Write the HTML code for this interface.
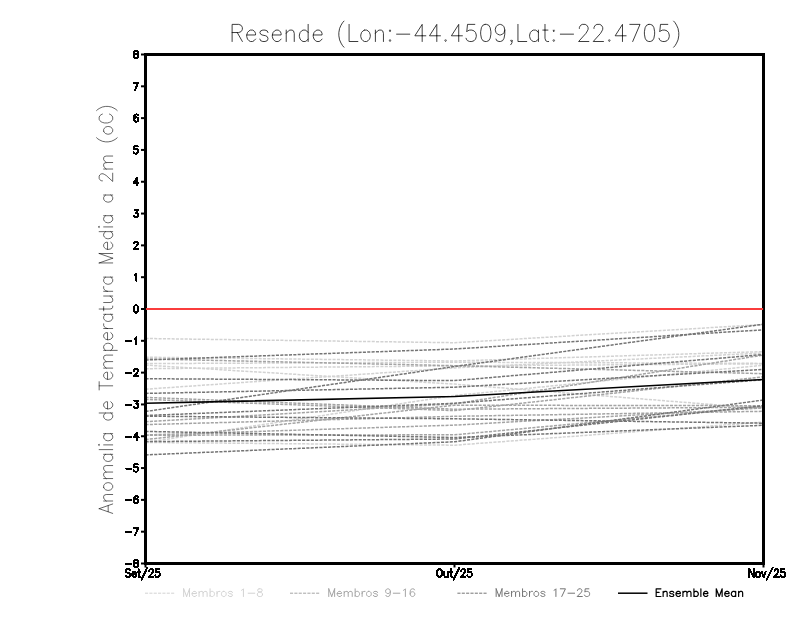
<!DOCTYPE html>
<html><head><meta charset="utf-8"><title>Resende</title>
<style>html,body{margin:0;padding:0;background:#fff;font-family:"Liberation Sans",sans-serif;}svg{display:block}</style></head>
<body>
<svg width="800" height="618" viewBox="0 0 800 618">
<rect width="800" height="618" fill="#fff"/>
<polyline points="145.5,338.5 454.5,342.7 763.5,324.5" fill="none" stroke="#d2d2d2" stroke-width="1.50" stroke-dasharray="3.1 1.25"/>
<polyline points="145.5,357.2 454.5,361.0 763.5,351.6" fill="none" stroke="#d2d2d2" stroke-width="1.50" stroke-dasharray="3.1 1.25"/>
<polyline points="145.5,363.6 454.5,362.2 763.5,363.4" fill="none" stroke="#d2d2d2" stroke-width="1.50" stroke-dasharray="3.1 1.25"/>
<polyline points="145.5,368.7 454.5,365.9 763.5,363.8" fill="none" stroke="#d2d2d2" stroke-width="1.50" stroke-dasharray="3.1 1.25"/>
<polyline points="145.5,365.1 454.5,384.1 763.5,408.6" fill="none" stroke="#d2d2d2" stroke-width="1.50" stroke-dasharray="3.1 1.25"/>
<polyline points="145.5,389.2 454.5,367.9 763.5,353.0" fill="none" stroke="#d2d2d2" stroke-width="1.50" stroke-dasharray="3.1 1.25"/>
<polyline points="145.5,442.4 454.5,445.2 763.5,422.1" fill="none" stroke="#d2d2d2" stroke-width="1.50" stroke-dasharray="3.1 1.25"/>
<polyline points="145.5,442.4 454.5,395.5 763.5,365.2" fill="none" stroke="#d2d2d2" stroke-width="1.50" stroke-dasharray="3.1 1.25"/>
<polyline points="145.5,397.4 454.5,409.2 763.5,407.3" fill="none" stroke="#a4a4a4" stroke-width="1.50" stroke-dasharray="3.1 1.25"/>
<polyline points="145.5,399.4 454.5,410.6 763.5,376.8" fill="none" stroke="#a4a4a4" stroke-width="1.50" stroke-dasharray="3.1 1.25"/>
<polyline points="145.5,421.7 454.5,403.8 763.5,355.0" fill="none" stroke="#a4a4a4" stroke-width="1.50" stroke-dasharray="3.1 1.25"/>
<polyline points="145.5,439.6 454.5,405.2 763.5,405.7" fill="none" stroke="#a4a4a4" stroke-width="1.50" stroke-dasharray="3.1 1.25"/>
<polyline points="145.5,424.6 454.5,416.3 763.5,411.3" fill="none" stroke="#a4a4a4" stroke-width="1.50" stroke-dasharray="3.1 1.25"/>
<polyline points="145.5,435.0 454.5,425.1 763.5,408.0" fill="none" stroke="#a4a4a4" stroke-width="1.50" stroke-dasharray="3.1 1.25"/>
<polyline points="145.5,435.2 454.5,434.8 763.5,406.8" fill="none" stroke="#a4a4a4" stroke-width="1.50" stroke-dasharray="3.1 1.25"/>
<polyline points="145.5,358.9 454.5,365.7 763.5,373.7" fill="none" stroke="#a4a4a4" stroke-width="1.50" stroke-dasharray="3.1 1.25"/>
<polyline points="145.5,360.0 454.5,349.0 763.5,329.8" fill="none" stroke="#747474" stroke-width="1.50" stroke-dasharray="3.1 1.25"/>
<polyline points="145.5,378.7 454.5,380.6 763.5,354.5" fill="none" stroke="#747474" stroke-width="1.50" stroke-dasharray="3.1 1.25"/>
<polyline points="145.5,393.4 454.5,387.2 763.5,369.5" fill="none" stroke="#747474" stroke-width="1.50" stroke-dasharray="3.1 1.25"/>
<polyline points="145.5,411.5 454.5,366.5 763.5,324.2" fill="none" stroke="#747474" stroke-width="1.50" stroke-dasharray="3.1 1.25"/>
<polyline points="145.5,415.5 454.5,403.3 763.5,379.7" fill="none" stroke="#747474" stroke-width="1.50" stroke-dasharray="3.1 1.25"/>
<polyline points="145.5,416.2 454.5,418.8 763.5,423.2" fill="none" stroke="#747474" stroke-width="1.50" stroke-dasharray="3.1 1.25"/>
<polyline points="145.5,431.4 454.5,437.5 763.5,425.3" fill="none" stroke="#747474" stroke-width="1.50" stroke-dasharray="3.1 1.25"/>
<polyline points="145.5,441.6 454.5,439.0 763.5,405.7" fill="none" stroke="#747474" stroke-width="1.50" stroke-dasharray="3.1 1.25"/>
<polyline points="145.5,454.9 454.5,441.8 763.5,400.0" fill="none" stroke="#747474" stroke-width="1.50" stroke-dasharray="3.1 1.25"/>
<polyline points="145.5,403.3 454.5,396.5 763.5,379.5" fill="none" stroke="#000" stroke-width="1.60"/>
<rect x="145.5" y="54.5" width="618.0" height="509.0" fill="none" stroke="#000" stroke-width="3"/>
<line x1="146.0" y1="309.0" x2="763.1" y2="309.0" stroke="#fa3c3c" stroke-width="2.1"/>
<line x1="141" y1="563.50" x2="145" y2="563.50" stroke="#000" stroke-width="2"/>
<path transform="translate(139.20 567.10) translate(-14.72 0)" d="M1.28 -3.10L7.04 -3.10M10.88 -7.24L9.92 -6.90L9.60 -6.21L9.60 -5.52L9.92 -4.83L10.56 -4.48L11.84 -4.14L12.80 -3.79L13.44 -3.10L13.76 -2.42L13.76 -1.38L13.44 -0.69L13.12 -0.34L12.16 0.00L10.88 0.00L9.92 -0.34L9.60 -0.69L9.28 -1.38L9.28 -2.42L9.60 -3.10L10.24 -3.79L11.20 -4.14L12.48 -4.48L13.12 -4.83L13.44 -5.52L13.44 -6.21L13.12 -6.90L12.16 -7.24L10.88 -7.24" fill="none" stroke="#000" stroke-width="2.00" stroke-linecap="round" stroke-linejoin="round" shape-rendering="crispEdges"/>
<line x1="141" y1="531.69" x2="145" y2="531.69" stroke="#000" stroke-width="2"/>
<path transform="translate(139.20 535.29) translate(-14.72 0)" d="M1.28 -3.10L7.04 -3.10M9.28 -7.24L13.76 -7.24L10.56 0.00" fill="none" stroke="#000" stroke-width="2.00" stroke-linecap="round" stroke-linejoin="round" shape-rendering="crispEdges"/>
<line x1="141" y1="499.88" x2="145" y2="499.88" stroke="#000" stroke-width="2"/>
<path transform="translate(139.20 503.48) translate(-14.72 0)" d="M1.28 -3.10L7.04 -3.10M13.44 -6.21L13.12 -6.90L12.16 -7.24L11.52 -7.24L10.56 -6.90L9.92 -5.86L9.60 -4.14L9.60 -2.42L9.92 -1.03L10.56 -0.34L11.52 0.00L11.84 0.00L12.80 -0.34L13.44 -1.03L13.76 -2.07L13.76 -2.42L13.44 -3.45L12.80 -4.14L11.84 -4.48L11.52 -4.48L10.56 -4.14L9.92 -3.45L9.60 -2.42" fill="none" stroke="#000" stroke-width="2.00" stroke-linecap="round" stroke-linejoin="round" shape-rendering="crispEdges"/>
<line x1="141" y1="468.06" x2="145" y2="468.06" stroke="#000" stroke-width="2"/>
<path transform="translate(139.20 471.66) translate(-14.72 0)" d="M1.28 -3.10L7.04 -3.10M13.12 -7.24L9.92 -7.24L9.60 -4.14L9.92 -4.48L10.88 -4.83L11.84 -4.83L12.80 -4.48L13.44 -3.79L13.76 -2.76L13.76 -2.07L13.44 -1.03L12.80 -0.34L11.84 0.00L10.88 0.00L9.92 -0.34L9.60 -0.69L9.28 -1.38" fill="none" stroke="#000" stroke-width="2.00" stroke-linecap="round" stroke-linejoin="round" shape-rendering="crispEdges"/>
<line x1="141" y1="436.25" x2="145" y2="436.25" stroke="#000" stroke-width="2"/>
<path transform="translate(139.20 439.85) translate(-14.72 0)" d="M1.28 -3.10L7.04 -3.10M14.08 -2.42L9.28 -2.42L12.48 -7.24L12.48 -2.42M12.48 -2.42L12.48 0.00" fill="none" stroke="#000" stroke-width="2.00" stroke-linecap="round" stroke-linejoin="round" shape-rendering="crispEdges"/>
<line x1="141" y1="404.44" x2="145" y2="404.44" stroke="#000" stroke-width="2"/>
<path transform="translate(139.20 408.04) translate(-14.72 0)" d="M1.28 -3.10L7.04 -3.10M9.92 -7.24L13.44 -7.24L11.52 -4.48L12.48 -4.48L13.12 -4.14L13.44 -3.79L13.76 -2.76L13.76 -2.07L13.44 -1.03L12.80 -0.34L11.84 0.00L10.88 0.00L9.92 -0.34L9.60 -0.69L9.28 -1.38" fill="none" stroke="#000" stroke-width="2.00" stroke-linecap="round" stroke-linejoin="round" shape-rendering="crispEdges"/>
<line x1="141" y1="372.62" x2="145" y2="372.62" stroke="#000" stroke-width="2"/>
<path transform="translate(139.20 376.23) translate(-14.72 0)" d="M1.28 -3.10L7.04 -3.10M9.60 -5.52L9.60 -5.86L9.92 -6.55L10.24 -6.90L10.88 -7.24L12.16 -7.24L12.80 -6.90L13.12 -6.55L13.44 -5.86L13.44 -5.17L13.12 -4.48L12.48 -3.45L9.28 0.00L13.76 0.00" fill="none" stroke="#000" stroke-width="2.00" stroke-linecap="round" stroke-linejoin="round" shape-rendering="crispEdges"/>
<line x1="141" y1="340.81" x2="145" y2="340.81" stroke="#000" stroke-width="2"/>
<path transform="translate(139.20 344.41) translate(-14.72 0)" d="M1.28 -3.10L7.04 -3.10M10.24 -5.86L10.88 -6.21L11.84 -7.24L11.84 0.00" fill="none" stroke="#000" stroke-width="2.00" stroke-linecap="round" stroke-linejoin="round" shape-rendering="crispEdges"/>
<line x1="141" y1="309.00" x2="145" y2="309.00" stroke="#000" stroke-width="2"/>
<path transform="translate(139.20 312.60) translate(-6.40 0)" d="M2.88 -7.24L3.52 -7.24L4.48 -6.90L5.12 -5.86L5.44 -4.14L5.44 -3.10L5.12 -1.38L4.48 -0.34L3.52 0.00L2.88 0.00L1.92 -0.34L1.28 -1.38L0.96 -3.10L0.96 -4.14L1.28 -5.86L1.92 -6.90L2.88 -7.24" fill="none" stroke="#000" stroke-width="2.00" stroke-linecap="round" stroke-linejoin="round" shape-rendering="crispEdges"/>
<line x1="141" y1="277.19" x2="145" y2="277.19" stroke="#000" stroke-width="2"/>
<path transform="translate(139.20 280.79) translate(-6.40 0)" d="M1.92 -5.86L2.56 -6.21L3.52 -7.24L3.52 0.00" fill="none" stroke="#000" stroke-width="2.00" stroke-linecap="round" stroke-linejoin="round" shape-rendering="crispEdges"/>
<line x1="141" y1="245.38" x2="145" y2="245.38" stroke="#000" stroke-width="2"/>
<path transform="translate(139.20 248.97) translate(-6.40 0)" d="M1.28 -5.52L1.28 -5.86L1.60 -6.55L1.92 -6.90L2.56 -7.24L3.84 -7.24L4.48 -6.90L4.80 -6.55L5.12 -5.86L5.12 -5.17L4.80 -4.48L4.16 -3.45L0.96 0.00L5.44 0.00" fill="none" stroke="#000" stroke-width="2.00" stroke-linecap="round" stroke-linejoin="round" shape-rendering="crispEdges"/>
<line x1="141" y1="213.56" x2="145" y2="213.56" stroke="#000" stroke-width="2"/>
<path transform="translate(139.20 217.16) translate(-6.40 0)" d="M1.60 -7.24L5.12 -7.24L3.20 -4.48L4.16 -4.48L4.80 -4.14L5.12 -3.79L5.44 -2.76L5.44 -2.07L5.12 -1.03L4.48 -0.34L3.52 0.00L2.56 0.00L1.60 -0.34L1.28 -0.69L0.96 -1.38" fill="none" stroke="#000" stroke-width="2.00" stroke-linecap="round" stroke-linejoin="round" shape-rendering="crispEdges"/>
<line x1="141" y1="181.75" x2="145" y2="181.75" stroke="#000" stroke-width="2"/>
<path transform="translate(139.20 185.35) translate(-6.40 0)" d="M5.76 -2.42L0.96 -2.42L4.16 -7.24L4.16 -2.42M4.16 -2.42L4.16 0.00" fill="none" stroke="#000" stroke-width="2.00" stroke-linecap="round" stroke-linejoin="round" shape-rendering="crispEdges"/>
<line x1="141" y1="149.94" x2="145" y2="149.94" stroke="#000" stroke-width="2"/>
<path transform="translate(139.20 153.54) translate(-6.40 0)" d="M4.80 -7.24L1.60 -7.24L1.28 -4.14L1.60 -4.48L2.56 -4.83L3.52 -4.83L4.48 -4.48L5.12 -3.79L5.44 -2.76L5.44 -2.07L5.12 -1.03L4.48 -0.34L3.52 0.00L2.56 0.00L1.60 -0.34L1.28 -0.69L0.96 -1.38" fill="none" stroke="#000" stroke-width="2.00" stroke-linecap="round" stroke-linejoin="round" shape-rendering="crispEdges"/>
<line x1="141" y1="118.12" x2="145" y2="118.12" stroke="#000" stroke-width="2"/>
<path transform="translate(139.20 121.72) translate(-6.40 0)" d="M5.12 -6.21L4.80 -6.90L3.84 -7.24L3.20 -7.24L2.24 -6.90L1.60 -5.86L1.28 -4.14L1.28 -2.42L1.60 -1.03L2.24 -0.34L3.20 0.00L3.52 0.00L4.48 -0.34L5.12 -1.03L5.44 -2.07L5.44 -2.42L5.12 -3.45L4.48 -4.14L3.52 -4.48L3.20 -4.48L2.24 -4.14L1.60 -3.45L1.28 -2.42" fill="none" stroke="#000" stroke-width="2.00" stroke-linecap="round" stroke-linejoin="round" shape-rendering="crispEdges"/>
<line x1="141" y1="86.31" x2="145" y2="86.31" stroke="#000" stroke-width="2"/>
<path transform="translate(139.20 89.91) translate(-6.40 0)" d="M0.96 -7.24L5.44 -7.24L2.24 0.00" fill="none" stroke="#000" stroke-width="2.00" stroke-linecap="round" stroke-linejoin="round" shape-rendering="crispEdges"/>
<line x1="141" y1="54.50" x2="145" y2="54.50" stroke="#000" stroke-width="2"/>
<path transform="translate(139.20 58.10) translate(-6.40 0)" d="M2.56 -7.24L1.60 -6.90L1.28 -6.21L1.28 -5.52L1.60 -4.83L2.24 -4.48L3.52 -4.14L4.48 -3.79L5.12 -3.10L5.44 -2.42L5.44 -1.38L5.12 -0.69L4.80 -0.34L3.84 0.00L2.56 0.00L1.60 -0.34L1.28 -0.69L0.96 -1.38L0.96 -2.42L1.28 -3.10L1.92 -3.79L2.88 -4.14L4.16 -4.48L4.80 -4.83L5.12 -5.52L5.12 -6.21L4.80 -6.90L3.84 -7.24L2.56 -7.24" fill="none" stroke="#000" stroke-width="2.00" stroke-linecap="round" stroke-linejoin="round" shape-rendering="crispEdges"/>
<line x1="145.5" y1="563" x2="145.5" y2="567.5" stroke="#000" stroke-width="2"/>
<path transform="translate(142.80 577.00) translate(-17.92 0)" d="M5.44 -6.75L4.80 -7.50L3.84 -7.88L2.56 -7.88L1.60 -7.50L0.96 -6.75L0.96 -6.00L1.28 -5.25L1.60 -4.88L2.24 -4.50L4.16 -3.75L4.80 -3.38L5.12 -3.00L5.44 -2.25L5.44 -1.12L4.80 -0.38L3.84 0.00L2.56 0.00L1.60 -0.38L0.96 -1.12M11.20 -1.12L10.56 -0.38L9.92 0.00L8.96 0.00L8.32 -0.38L7.68 -1.12L7.36 -2.25L7.36 -3.00L7.68 -4.12L8.32 -4.88L8.96 -5.25L9.92 -5.25L10.56 -4.88L10.88 -4.50L11.20 -3.75L11.20 -3.00L7.36 -3.00M13.76 -7.88L13.76 -1.50L14.08 -0.38L14.72 0.00L15.36 0.00M12.80 -5.25L13.76 -5.25M13.76 -5.25L15.04 -5.25M22.40 -9.38L16.64 2.62M24.32 -6.00L24.32 -6.38L24.64 -7.12L24.96 -7.50L25.60 -7.88L26.88 -7.88L27.52 -7.50L27.84 -7.12L28.16 -6.38L28.16 -5.62L27.84 -4.88L27.20 -3.75L24.00 0.00L28.48 0.00M34.24 -7.88L31.04 -7.88L30.72 -4.50L31.04 -4.88L32.00 -5.25L32.96 -5.25L33.92 -4.88L34.56 -4.12L34.88 -3.00L34.88 -2.25L34.56 -1.12L33.92 -0.38L32.96 0.00L32.00 0.00L31.04 -0.38L30.72 -0.75L30.40 -1.50" fill="none" stroke="#000" stroke-width="2.00" stroke-linecap="round" stroke-linejoin="round" shape-rendering="crispEdges"/>
<line x1="454.5" y1="563" x2="454.5" y2="567.5" stroke="#000" stroke-width="2"/>
<path transform="translate(454.40 577.00) translate(-18.40 0)" d="M2.88 -7.88L4.16 -7.88L4.80 -7.50L5.44 -6.75L5.76 -6.00L6.08 -4.88L6.08 -3.00L5.76 -1.88L5.44 -1.12L4.80 -0.38L4.16 0.00L2.88 0.00L2.24 -0.38L1.60 -1.12L1.28 -1.88L0.96 -3.00L0.96 -4.88L1.28 -6.00L1.60 -6.75L2.24 -7.50L2.88 -7.88M8.32 -5.25L8.32 -1.50L8.64 -0.38L9.28 0.00L10.24 0.00L10.88 -0.38L11.84 -1.50L11.84 -5.25M11.84 -1.50L11.84 0.00M14.72 -7.88L14.72 -1.50L15.04 -0.38L15.68 0.00L16.32 0.00M13.76 -5.25L14.72 -5.25M14.72 -5.25L16.00 -5.25M23.36 -9.38L17.60 2.62M25.28 -6.00L25.28 -6.38L25.60 -7.12L25.92 -7.50L26.56 -7.88L27.84 -7.88L28.48 -7.50L28.80 -7.12L29.12 -6.38L29.12 -5.62L28.80 -4.88L28.16 -3.75L24.96 0.00L29.44 0.00M35.20 -7.88L32.00 -7.88L31.68 -4.50L32.00 -4.88L32.96 -5.25L33.92 -5.25L34.88 -4.88L35.52 -4.12L35.84 -3.00L35.84 -2.25L35.52 -1.12L34.88 -0.38L33.92 0.00L32.96 0.00L32.00 -0.38L31.68 -0.75L31.36 -1.50" fill="none" stroke="#000" stroke-width="2.00" stroke-linecap="round" stroke-linejoin="round" shape-rendering="crispEdges"/>
<line x1="763.5" y1="563" x2="763.5" y2="567.5" stroke="#000" stroke-width="2"/>
<path transform="translate(767.00 577.00) translate(-19.04 0)" d="M5.76 -7.88L5.76 0.00L1.28 -7.88L1.28 0.00M9.60 -5.25L10.56 -5.25L11.20 -4.88L11.84 -4.12L12.16 -3.00L12.16 -2.25L11.84 -1.12L11.20 -0.38L10.56 0.00L9.60 0.00L8.96 -0.38L8.32 -1.12L8.00 -2.25L8.00 -3.00L8.32 -4.12L8.96 -4.88L9.60 -5.25M13.76 -5.25L15.68 0.00M17.60 -5.25L15.68 0.00M24.64 -9.38L18.88 2.62M26.56 -6.00L26.56 -6.38L26.88 -7.12L27.20 -7.50L27.84 -7.88L29.12 -7.88L29.76 -7.50L30.08 -7.12L30.40 -6.38L30.40 -5.62L30.08 -4.88L29.44 -3.75L26.24 0.00L30.72 0.00M36.48 -7.88L33.28 -7.88L32.96 -4.50L33.28 -4.88L34.24 -5.25L35.20 -5.25L36.16 -4.88L36.80 -4.12L37.12 -3.00L37.12 -2.25L36.80 -1.12L36.16 -0.38L35.20 0.00L34.24 0.00L33.28 -0.38L32.96 -0.75L32.64 -1.50" fill="none" stroke="#000" stroke-width="2.00" stroke-linecap="round" stroke-linejoin="round" shape-rendering="crispEdges"/>
<path transform="translate(229.20 41.50) translate(0.00 0)" d="M2.92 0.00L2.92 -17.11L9.50 -17.11L11.70 -16.30L12.43 -15.48L13.16 -13.85L13.16 -12.22L12.43 -10.59L11.70 -9.78L9.50 -8.96L2.92 -8.96M8.04 -8.96L13.16 0.00M26.32 -2.44L24.85 -0.81L23.39 0.00L21.20 0.00L19.74 -0.81L18.27 -2.44L17.54 -4.89L17.54 -6.52L18.27 -8.96L19.74 -10.59L21.20 -11.41L23.39 -11.41L24.85 -10.59L25.59 -9.78L26.32 -8.15L26.32 -6.52L17.54 -6.52M38.74 -8.96L38.01 -10.59L35.82 -11.41L33.63 -11.41L31.43 -10.59L30.70 -8.96L31.43 -7.33L32.90 -6.52L36.55 -5.71L38.01 -4.89L38.74 -3.26L38.74 -2.44L38.01 -0.81L35.82 0.00L33.63 0.00L31.43 -0.81L30.70 -2.44M51.90 -2.44L50.44 -0.81L48.98 0.00L46.78 0.00L45.32 -0.81L43.86 -2.44L43.13 -4.89L43.13 -6.52L43.86 -8.96L45.32 -10.59L46.78 -11.41L48.98 -11.41L50.44 -10.59L51.17 -9.78L51.90 -8.15L51.90 -6.52L43.13 -6.52M57.02 -11.41L57.02 0.00M57.02 -8.15L59.21 -10.59L60.67 -11.41L62.87 -11.41L64.33 -10.59L65.06 -8.15L65.06 0.00M78.95 -17.11L78.95 0.00M78.95 -8.96L77.49 -10.59L76.02 -11.41L73.83 -11.41L72.37 -10.59L70.91 -8.96L70.18 -6.52L70.18 -4.89L70.91 -2.44L72.37 -0.81L73.83 0.00L76.02 0.00L77.49 -0.81L78.95 -2.44M92.84 -2.44L91.38 -0.81L89.91 0.00L87.72 0.00L86.26 -0.81L84.80 -2.44L84.06 -4.89L84.06 -6.52L84.80 -8.96L86.26 -10.59L87.72 -11.41L89.91 -11.41L91.38 -10.59L92.11 -9.78L92.84 -8.15L92.84 -6.52L84.06 -6.52M114.77 -20.38L113.30 -18.74L111.84 -16.30L110.38 -13.04L109.65 -8.96L109.65 -5.71L110.38 -1.63L111.84 1.63L113.30 4.07L114.77 5.71M119.88 -17.11L119.88 0.00L128.66 0.00M135.24 -11.41L137.43 -11.41L138.89 -10.59L140.35 -8.96L141.08 -6.52L141.08 -4.89L140.35 -2.44L138.89 -0.81L137.43 0.00L135.24 0.00L133.77 -0.81L132.31 -2.44L131.58 -4.89L131.58 -6.52L132.31 -8.96L133.77 -10.59L135.24 -11.41M146.20 -11.41L146.20 0.00M146.20 -8.15L148.39 -10.59L149.86 -11.41L152.05 -11.41L153.51 -10.59L154.24 -8.15L154.24 0.00M160.82 -11.41L160.09 -10.59L160.82 -9.78L161.55 -10.59L160.82 -11.41M160.82 -1.63L160.09 -0.81L160.82 0.00L161.55 -0.81L160.82 -1.63M167.40 -7.33L180.56 -7.33M196.64 -5.71L185.67 -5.71L192.98 -17.11L192.98 -5.71M192.98 -5.71L192.98 0.00M211.26 -5.71L200.29 -5.71L207.60 -17.11L207.60 -5.71M207.60 -5.71L207.60 0.00M216.38 -1.63L215.65 -0.81L216.38 0.00L217.11 -0.81L216.38 -1.63M233.19 -5.71L222.22 -5.71L229.53 -17.11L229.53 -5.71M229.53 -5.71L229.53 0.00M245.62 -17.11L238.31 -17.11L237.58 -9.78L238.31 -10.59L240.50 -11.41L242.69 -11.41L244.89 -10.59L246.35 -8.96L247.08 -6.52L247.08 -4.89L246.35 -2.44L244.89 -0.81L242.69 0.00L240.50 0.00L238.31 -0.81L237.58 -1.63L236.84 -3.26M255.85 -17.11L257.31 -17.11L259.51 -16.30L260.97 -13.85L261.70 -9.78L261.70 -7.33L260.97 -3.26L259.51 -0.81L257.31 0.00L255.85 0.00L253.66 -0.81L252.20 -3.26L251.46 -7.33L251.46 -9.78L252.20 -13.85L253.66 -16.30L255.85 -17.11M266.81 -2.44L267.55 -0.81L269.74 0.00L271.20 0.00L273.39 -0.81L274.86 -3.26L275.59 -7.33L275.59 -11.41L274.86 -14.67L273.39 -16.30L271.20 -17.11L270.47 -17.11L268.28 -16.30L266.81 -14.67L266.08 -12.22L266.08 -11.41L266.81 -8.96L268.28 -7.33L270.47 -6.52L271.20 -6.52L273.39 -7.33L274.86 -8.96L275.59 -11.41M281.44 3.26L282.17 2.44L282.90 0.81L282.90 -0.81L282.17 -1.63L281.44 -0.81L282.17 0.00L282.90 -0.81M288.75 -17.11L288.75 0.00L297.52 0.00M309.21 -11.41L309.21 0.00M309.21 -8.96L307.75 -10.59L306.29 -11.41L304.10 -11.41L302.63 -10.59L301.17 -8.96L300.44 -6.52L300.44 -4.89L301.17 -2.44L302.63 -0.81L304.10 0.00L306.29 0.00L307.75 -0.81L309.21 -2.44M315.79 -17.11L315.79 -3.26L316.52 -0.81L317.99 0.00L319.45 0.00M313.60 -11.41L315.79 -11.41M315.79 -11.41L318.72 -11.41M324.56 -11.41L323.83 -10.59L324.56 -9.78L325.30 -10.59L324.56 -11.41M324.56 -1.63L323.83 -0.81L324.56 0.00L325.30 -0.81L324.56 -1.63M331.14 -7.33L344.30 -7.33M350.15 -13.04L350.15 -13.85L350.88 -15.48L351.61 -16.30L353.07 -17.11L356.00 -17.11L357.46 -16.30L358.19 -15.48L358.92 -13.85L358.92 -12.22L358.19 -10.59L356.73 -8.15L349.42 0.00L359.65 0.00M364.77 -13.04L364.77 -13.85L365.50 -15.48L366.23 -16.30L367.69 -17.11L370.62 -17.11L372.08 -16.30L372.81 -15.48L373.54 -13.85L373.54 -12.22L372.81 -10.59L371.35 -8.15L364.04 0.00L374.27 0.00M380.12 -1.63L379.39 -0.81L380.12 0.00L380.85 -0.81L380.12 -1.63M396.93 -5.71L385.97 -5.71L393.28 -17.11L393.28 -5.71M393.28 -5.71L393.28 0.00M400.59 -17.11L410.82 -17.11L403.51 0.00M419.59 -17.11L421.06 -17.11L423.25 -16.30L424.71 -13.85L425.44 -9.78L425.44 -7.33L424.71 -3.26L423.25 -0.81L421.06 0.00L419.59 0.00L417.40 -0.81L415.94 -3.26L415.21 -7.33L415.21 -9.78L415.94 -13.85L417.40 -16.30L419.59 -17.11M438.60 -17.11L431.29 -17.11L430.56 -9.78L431.29 -10.59L433.48 -11.41L435.68 -11.41L437.87 -10.59L439.33 -8.96L440.06 -6.52L440.06 -4.89L439.33 -2.44L437.87 -0.81L435.68 0.00L433.48 0.00L431.29 -0.81L430.56 -1.63L429.83 -3.26M444.45 -20.38L445.91 -18.74L447.37 -16.30L448.83 -13.04L449.57 -8.96L449.57 -5.71L448.83 -1.63L447.37 1.63L445.91 4.07L444.45 5.71" fill="none" stroke="#000" stroke-width="0.76" stroke-linecap="round" stroke-linejoin="round" />
<path transform="translate(112.70 514.00) rotate(-90) translate(0.00 0)" d="M5.32 -13.54L0.59 0.00M5.32 -13.54L10.04 0.00M2.36 -4.52L8.27 -4.52M13.00 -9.03L13.00 0.00M13.00 -6.45L14.77 -8.38L15.95 -9.03L17.72 -9.03L18.90 -8.38L19.49 -6.45L19.49 0.00M26.58 -9.03L28.35 -9.03L29.53 -8.38L30.72 -7.10L31.31 -5.16L31.31 -3.87L30.72 -1.94L29.53 -0.65L28.35 0.00L26.58 0.00L25.40 -0.65L24.22 -1.94L23.63 -3.87L23.63 -5.16L24.22 -7.10L25.40 -8.38L26.58 -9.03M35.44 -9.03L35.44 0.00M35.44 -6.45L37.21 -8.38L38.40 -9.03L40.17 -9.03L41.35 -8.38L41.94 -6.45L41.94 0.00M41.94 -6.45L43.71 -8.38L44.89 -9.03L46.67 -9.03L47.85 -8.38L48.44 -6.45L48.44 0.00M59.66 -9.03L59.66 0.00M59.66 -7.10L58.48 -8.38L57.30 -9.03L55.53 -9.03L54.34 -8.38L53.16 -7.10L52.57 -5.16L52.57 -3.87L53.16 -1.94L54.34 -0.65L55.53 0.00L57.30 0.00L58.48 -0.65L59.66 -1.94M64.39 -13.54L64.39 0.00M69.11 -9.03L69.11 0.00M69.11 -14.19L68.52 -13.54L69.11 -12.90L69.70 -13.54L69.11 -14.19M80.34 -9.03L80.34 0.00M80.34 -7.10L79.15 -8.38L77.97 -9.03L76.20 -9.03L75.02 -8.38L73.84 -7.10L73.25 -5.16L73.25 -3.87L73.84 -1.94L75.02 -0.65L76.20 0.00L77.97 0.00L79.15 -0.65L80.34 -1.94M101.01 -13.54L101.01 0.00M101.01 -7.10L99.83 -8.38L98.65 -9.03L96.87 -9.03L95.69 -8.38L94.51 -7.10L93.92 -5.16L93.92 -3.87L94.51 -1.94L95.69 -0.65L96.87 0.00L98.65 0.00L99.83 -0.65L101.01 -1.94M112.23 -1.94L111.05 -0.65L109.87 0.00L108.10 0.00L106.92 -0.65L105.74 -1.94L105.14 -3.87L105.14 -5.16L105.74 -7.10L106.92 -8.38L108.10 -9.03L109.87 -9.03L111.05 -8.38L111.64 -7.74L112.23 -6.45L112.23 -5.16L105.14 -5.16M124.05 -13.54L132.32 -13.54M128.18 -13.54L128.18 0.00M141.77 -1.94L140.59 -0.65L139.41 0.00L137.63 0.00L136.45 -0.65L135.27 -1.94L134.68 -3.87L134.68 -5.16L135.27 -7.10L136.45 -8.38L137.63 -9.03L139.41 -9.03L140.59 -8.38L141.18 -7.74L141.77 -6.45L141.77 -5.16L134.68 -5.16M145.90 -9.03L145.90 0.00M145.90 -6.45L147.67 -8.38L148.86 -9.03L150.63 -9.03L151.81 -8.38L152.40 -6.45L152.40 0.00M152.40 -6.45L154.17 -8.38L155.35 -9.03L157.13 -9.03L158.31 -8.38L158.90 -6.45L158.90 0.00M163.62 -9.03L163.62 4.52M163.62 -7.10L164.81 -8.38L165.99 -9.03L167.76 -9.03L168.94 -8.38L170.12 -7.10L170.71 -5.16L170.71 -3.87L170.12 -1.94L168.94 -0.65L167.76 0.00L165.99 0.00L164.81 -0.65L163.62 -1.94M181.34 -1.94L180.16 -0.65L178.98 0.00L177.21 0.00L176.03 -0.65L174.85 -1.94L174.26 -3.87L174.26 -5.16L174.85 -7.10L176.03 -8.38L177.21 -9.03L178.98 -9.03L180.16 -8.38L180.75 -7.74L181.34 -6.45L181.34 -5.16L174.26 -5.16M185.48 -9.03L185.48 0.00M190.21 -9.03L188.43 -9.03L187.25 -8.38L186.07 -7.10L185.48 -5.16M199.66 -9.03L199.66 0.00M199.66 -7.10L198.48 -8.38L197.29 -9.03L195.52 -9.03L194.34 -8.38L193.16 -7.10L192.57 -5.16L192.57 -3.87L193.16 -1.94L194.34 -0.65L195.52 0.00L197.29 0.00L198.48 -0.65L199.66 -1.94M204.97 -13.54L204.97 -2.58L205.56 -0.65L206.74 0.00L207.93 0.00M203.20 -9.03L204.97 -9.03M204.97 -9.03L207.34 -9.03M211.47 -9.03L211.47 -2.58L212.06 -0.65L213.24 0.00L215.01 0.00L216.20 -0.65L217.97 -2.58L217.97 -9.03M217.97 -2.58L217.97 0.00M222.69 -9.03L222.69 0.00M227.42 -9.03L225.65 -9.03L224.47 -8.38L223.28 -7.10L222.69 -5.16M236.87 -9.03L236.87 0.00M236.87 -7.10L235.69 -8.38L234.51 -9.03L232.74 -9.03L231.55 -8.38L230.37 -7.10L229.78 -5.16L229.78 -3.87L230.37 -1.94L231.55 -0.65L232.74 0.00L234.51 0.00L235.69 -0.65L236.87 -1.94M251.05 -13.54L251.05 0.00M260.50 -13.54L260.50 0.00M251.05 -13.54L255.77 0.00M260.50 -13.54L255.77 0.00M271.72 -1.94L270.54 -0.65L269.36 0.00L267.59 0.00L266.41 -0.65L265.22 -1.94L264.63 -3.87L264.63 -5.16L265.22 -7.10L266.41 -8.38L267.59 -9.03L269.36 -9.03L270.54 -8.38L271.13 -7.74L271.72 -6.45L271.72 -5.16L264.63 -5.16M282.35 -13.54L282.35 0.00M282.35 -7.10L281.17 -8.38L279.99 -9.03L278.22 -9.03L277.04 -8.38L275.86 -7.10L275.27 -5.16L275.27 -3.87L275.86 -1.94L277.04 -0.65L278.22 0.00L279.99 0.00L281.17 -0.65L282.35 -1.94M287.08 -9.03L287.08 0.00M287.08 -14.19L286.49 -13.54L287.08 -12.90L287.67 -13.54L287.08 -14.19M298.30 -9.03L298.30 0.00M298.30 -7.10L297.12 -8.38L295.94 -9.03L294.17 -9.03L292.99 -8.38L291.81 -7.10L291.22 -5.16L291.22 -3.87L291.81 -1.94L292.99 -0.65L294.17 0.00L295.94 0.00L297.12 -0.65L298.30 -1.94M318.98 -9.03L318.98 0.00M318.98 -7.10L317.80 -8.38L316.62 -9.03L314.84 -9.03L313.66 -8.38L312.48 -7.10L311.89 -5.16L311.89 -3.87L312.48 -1.94L313.66 -0.65L314.84 0.00L316.62 0.00L317.80 -0.65L318.98 -1.94M333.15 -10.32L333.15 -10.96L333.75 -12.26L334.34 -12.90L335.52 -13.54L337.88 -13.54L339.06 -12.90L339.65 -12.26L340.24 -10.96L340.24 -9.68L339.65 -8.38L338.47 -6.45L332.56 0.00L340.83 0.00M344.97 -9.03L344.97 0.00M344.97 -6.45L346.74 -8.38L347.92 -9.03L349.69 -9.03L350.88 -8.38L351.47 -6.45L351.47 0.00M351.47 -6.45L353.24 -8.38L354.42 -9.03L356.19 -9.03L357.37 -8.38L357.96 -6.45L357.96 0.00M376.28 -16.12L375.09 -14.84L373.91 -12.90L372.73 -10.32L372.14 -7.10L372.14 -4.52L372.73 -1.29L373.91 1.29L375.09 3.23L376.28 4.52M382.77 -9.03L384.55 -9.03L385.73 -8.38L386.91 -7.10L387.50 -5.16L387.50 -3.87L386.91 -1.94L385.73 -0.65L384.55 0.00L382.77 0.00L381.59 -0.65L380.41 -1.94L379.82 -3.87L379.82 -5.16L380.41 -7.10L381.59 -8.38L382.77 -9.03M399.90 -10.32L399.31 -11.61L398.13 -12.90L396.95 -13.54L394.59 -13.54L393.41 -12.90L392.22 -11.61L391.63 -10.32L391.04 -8.38L391.04 -5.16L391.63 -3.23L392.22 -1.94L393.41 -0.65L394.59 0.00L396.95 0.00L398.13 -0.65L399.31 -1.94L399.90 -3.23M403.45 -16.12L404.63 -14.84L405.81 -12.90L406.99 -10.32L407.58 -7.10L407.58 -4.52L406.99 -1.29L405.81 1.29L404.63 3.23L403.45 4.52" fill="none" stroke="#000" stroke-width="0.60" stroke-linecap="round" stroke-linejoin="round" />
<line x1="145.0" y1="593.2" x2="174.5" y2="593.2" stroke="#d2d2d2" stroke-width="1.0" stroke-dasharray="3.1 1.25"/>
<path transform="translate(182.20 596.50) translate(0.00 0)" d="M1.47 -7.69L1.47 0.00M7.33 -7.69L7.33 0.00M1.47 -7.69L4.40 0.00M7.33 -7.69L4.40 0.00M14.29 -1.10L13.56 -0.37L12.83 0.00L11.73 0.00L10.99 -0.37L10.26 -1.10L9.90 -2.20L9.90 -2.93L10.26 -4.03L10.99 -4.76L11.73 -5.12L12.83 -5.12L13.56 -4.76L13.93 -4.39L14.29 -3.66L14.29 -2.93L9.90 -2.93M16.86 -5.12L16.86 0.00M16.86 -3.66L17.96 -4.76L18.69 -5.12L19.79 -5.12L20.52 -4.76L20.89 -3.66L20.89 0.00M20.89 -3.66L21.99 -4.76L22.72 -5.12L23.82 -5.12L24.56 -4.76L24.92 -3.66L24.92 0.00M27.85 -7.69L27.85 0.00M27.85 -4.03L28.59 -4.76L29.32 -5.12L30.42 -5.12L31.15 -4.76L31.89 -4.03L32.25 -2.93L32.25 -2.20L31.89 -1.10L31.15 -0.37L30.42 0.00L29.32 0.00L28.59 -0.37L27.85 -1.10M34.82 -5.12L34.82 0.00M37.75 -5.12L36.65 -5.12L35.92 -4.76L35.18 -4.03L34.82 -2.93M41.05 -5.12L42.15 -5.12L42.88 -4.76L43.61 -4.03L43.98 -2.93L43.98 -2.20L43.61 -1.10L42.88 -0.37L42.15 0.00L41.05 0.00L40.31 -0.37L39.58 -1.10L39.22 -2.20L39.22 -2.93L39.58 -4.03L40.31 -4.76L41.05 -5.12M50.21 -4.03L49.84 -4.76L48.74 -5.12L47.64 -5.12L46.55 -4.76L46.18 -4.03L46.55 -3.29L47.28 -2.93L49.11 -2.56L49.84 -2.20L50.21 -1.46L50.21 -1.10L49.84 -0.37L48.74 0.00L47.64 0.00L46.55 -0.37L46.18 -1.10M59.37 -6.22L60.11 -6.59L61.21 -7.69L61.21 0.00M65.97 -3.29L72.57 -3.29M76.96 -7.69L75.87 -7.32L75.50 -6.59L75.50 -5.86L75.87 -5.12L76.60 -4.76L78.06 -4.39L79.16 -4.03L79.90 -3.29L80.26 -2.56L80.26 -1.46L79.90 -0.73L79.53 -0.37L78.43 0.00L76.96 0.00L75.87 -0.37L75.50 -0.73L75.13 -1.46L75.13 -2.56L75.50 -3.29L76.23 -4.03L77.33 -4.39L78.80 -4.76L79.53 -5.12L79.90 -5.86L79.90 -6.59L79.53 -7.32L78.43 -7.69L76.96 -7.69" fill="none" stroke="#d2d2d2" stroke-width="1.00" stroke-linecap="round" stroke-linejoin="round" />
<line x1="290.0" y1="593.2" x2="319.5" y2="593.2" stroke="#a4a4a4" stroke-width="1.0" stroke-dasharray="3.1 1.25"/>
<path transform="translate(327.30 596.50) translate(0.00 0)" d="M1.47 -7.69L1.47 0.00M7.33 -7.69L7.33 0.00M1.47 -7.69L4.40 0.00M7.33 -7.69L4.40 0.00M14.29 -1.10L13.56 -0.37L12.83 0.00L11.73 0.00L10.99 -0.37L10.26 -1.10L9.90 -2.20L9.90 -2.93L10.26 -4.03L10.99 -4.76L11.73 -5.12L12.83 -5.12L13.56 -4.76L13.93 -4.39L14.29 -3.66L14.29 -2.93L9.90 -2.93M16.86 -5.12L16.86 0.00M16.86 -3.66L17.96 -4.76L18.69 -5.12L19.79 -5.12L20.52 -4.76L20.89 -3.66L20.89 0.00M20.89 -3.66L21.99 -4.76L22.72 -5.12L23.82 -5.12L24.56 -4.76L24.92 -3.66L24.92 0.00M27.85 -7.69L27.85 0.00M27.85 -4.03L28.59 -4.76L29.32 -5.12L30.42 -5.12L31.15 -4.76L31.89 -4.03L32.25 -2.93L32.25 -2.20L31.89 -1.10L31.15 -0.37L30.42 0.00L29.32 0.00L28.59 -0.37L27.85 -1.10M34.82 -5.12L34.82 0.00M37.75 -5.12L36.65 -5.12L35.92 -4.76L35.18 -4.03L34.82 -2.93M41.05 -5.12L42.15 -5.12L42.88 -4.76L43.61 -4.03L43.98 -2.93L43.98 -2.20L43.61 -1.10L42.88 -0.37L42.15 0.00L41.05 0.00L40.31 -0.37L39.58 -1.10L39.22 -2.20L39.22 -2.93L39.58 -4.03L40.31 -4.76L41.05 -5.12M50.21 -4.03L49.84 -4.76L48.74 -5.12L47.64 -5.12L46.55 -4.76L46.18 -4.03L46.55 -3.29L47.28 -2.93L49.11 -2.56L49.84 -2.20L50.21 -1.46L50.21 -1.10L49.84 -0.37L48.74 0.00L47.64 0.00L46.55 -0.37L46.18 -1.10M58.64 -1.10L59.01 -0.37L60.11 0.00L60.84 0.00L61.94 -0.37L62.67 -1.46L63.04 -3.29L63.04 -5.12L62.67 -6.59L61.94 -7.32L60.84 -7.69L60.47 -7.69L59.37 -7.32L58.64 -6.59L58.27 -5.49L58.27 -5.12L58.64 -4.03L59.37 -3.29L60.47 -2.93L60.84 -2.93L61.94 -3.29L62.67 -4.03L63.04 -5.12M65.97 -3.29L72.57 -3.29M76.23 -6.22L76.96 -6.59L78.06 -7.69L78.06 0.00M87.23 -6.59L86.86 -7.32L85.76 -7.69L85.03 -7.69L83.93 -7.32L83.20 -6.22L82.83 -4.39L82.83 -2.56L83.20 -1.10L83.93 -0.37L85.03 0.00L85.39 0.00L86.49 -0.37L87.23 -1.10L87.59 -2.20L87.59 -2.56L87.23 -3.66L86.49 -4.39L85.39 -4.76L85.03 -4.76L83.93 -4.39L83.20 -3.66L82.83 -2.56" fill="none" stroke="#a4a4a4" stroke-width="1.00" stroke-linecap="round" stroke-linejoin="round" />
<line x1="457.4" y1="593.2" x2="486.9" y2="593.2" stroke="#747474" stroke-width="1.0" stroke-dasharray="3.1 1.25"/>
<path transform="translate(494.70 596.50) translate(0.00 0)" d="M1.47 -7.69L1.47 0.00M7.33 -7.69L7.33 0.00M1.47 -7.69L4.40 0.00M7.33 -7.69L4.40 0.00M14.29 -1.10L13.56 -0.37L12.83 0.00L11.73 0.00L10.99 -0.37L10.26 -1.10L9.90 -2.20L9.90 -2.93L10.26 -4.03L10.99 -4.76L11.73 -5.12L12.83 -5.12L13.56 -4.76L13.93 -4.39L14.29 -3.66L14.29 -2.93L9.90 -2.93M16.86 -5.12L16.86 0.00M16.86 -3.66L17.96 -4.76L18.69 -5.12L19.79 -5.12L20.52 -4.76L20.89 -3.66L20.89 0.00M20.89 -3.66L21.99 -4.76L22.72 -5.12L23.82 -5.12L24.56 -4.76L24.92 -3.66L24.92 0.00M27.85 -7.69L27.85 0.00M27.85 -4.03L28.59 -4.76L29.32 -5.12L30.42 -5.12L31.15 -4.76L31.89 -4.03L32.25 -2.93L32.25 -2.20L31.89 -1.10L31.15 -0.37L30.42 0.00L29.32 0.00L28.59 -0.37L27.85 -1.10M34.82 -5.12L34.82 0.00M37.75 -5.12L36.65 -5.12L35.92 -4.76L35.18 -4.03L34.82 -2.93M41.05 -5.12L42.15 -5.12L42.88 -4.76L43.61 -4.03L43.98 -2.93L43.98 -2.20L43.61 -1.10L42.88 -0.37L42.15 0.00L41.05 0.00L40.31 -0.37L39.58 -1.10L39.22 -2.20L39.22 -2.93L39.58 -4.03L40.31 -4.76L41.05 -5.12M50.21 -4.03L49.84 -4.76L48.74 -5.12L47.64 -5.12L46.55 -4.76L46.18 -4.03L46.55 -3.29L47.28 -2.93L49.11 -2.56L49.84 -2.20L50.21 -1.46L50.21 -1.10L49.84 -0.37L48.74 0.00L47.64 0.00L46.55 -0.37L46.18 -1.10M59.37 -6.22L60.11 -6.59L61.21 -7.69L61.21 0.00M65.60 -7.69L70.73 -7.69L67.07 0.00M73.30 -3.29L79.90 -3.29M82.83 -5.86L82.83 -6.22L83.20 -6.95L83.56 -7.32L84.29 -7.69L85.76 -7.69L86.49 -7.32L86.86 -6.95L87.23 -6.22L87.23 -5.49L86.86 -4.76L86.13 -3.66L82.46 0.00L87.59 0.00M94.19 -7.69L90.53 -7.69L90.16 -4.39L90.53 -4.76L91.62 -5.12L92.72 -5.12L93.82 -4.76L94.56 -4.03L94.92 -2.93L94.92 -2.20L94.56 -1.10L93.82 -0.37L92.72 0.00L91.62 0.00L90.53 -0.37L90.16 -0.73L89.79 -1.46" fill="none" stroke="#747474" stroke-width="1.00" stroke-linecap="round" stroke-linejoin="round" />
<line x1="618.0" y1="593.2" x2="647.5" y2="593.2" stroke="#000" stroke-width="1.5"/>
<path transform="translate(654.70 596.50) translate(0.00 0)" d="M6.23 -7.69L1.47 -7.69L1.47 0.00L6.23 0.00M1.47 -4.03L4.40 -4.03M8.43 -5.12L8.43 0.00M8.43 -3.66L9.53 -4.76L10.26 -5.12L11.36 -5.12L12.09 -4.76L12.46 -3.66L12.46 0.00M19.06 -4.03L18.69 -4.76L17.59 -5.12L16.49 -5.12L15.39 -4.76L15.03 -4.03L15.39 -3.29L16.13 -2.93L17.96 -2.56L18.69 -2.20L19.06 -1.46L19.06 -1.10L18.69 -0.37L17.59 0.00L16.49 0.00L15.39 -0.37L15.03 -1.10M25.65 -1.10L24.92 -0.37L24.19 0.00L23.09 0.00L22.36 -0.37L21.62 -1.10L21.26 -2.20L21.26 -2.93L21.62 -4.03L22.36 -4.76L23.09 -5.12L24.19 -5.12L24.92 -4.76L25.29 -4.39L25.65 -3.66L25.65 -2.93L21.26 -2.93M28.22 -5.12L28.22 0.00M28.22 -3.66L29.32 -4.76L30.05 -5.12L31.15 -5.12L31.89 -4.76L32.25 -3.66L32.25 0.00M32.25 -3.66L33.35 -4.76L34.08 -5.12L35.18 -5.12L35.92 -4.76L36.28 -3.66L36.28 0.00M39.22 -7.69L39.22 0.00M39.22 -4.03L39.95 -4.76L40.68 -5.12L41.78 -5.12L42.51 -4.76L43.25 -4.03L43.61 -2.93L43.61 -2.20L43.25 -1.10L42.51 -0.37L41.78 0.00L40.68 0.00L39.95 -0.37L39.22 -1.10M46.18 -7.69L46.18 0.00M53.14 -1.10L52.41 -0.37L51.68 0.00L50.58 0.00L49.84 -0.37L49.11 -1.10L48.74 -2.20L48.74 -2.93L49.11 -4.03L49.84 -4.76L50.58 -5.12L51.68 -5.12L52.41 -4.76L52.78 -4.39L53.14 -3.66L53.14 -2.93L48.74 -2.93M61.57 -7.69L61.57 0.00M67.44 -7.69L67.44 0.00M61.57 -7.69L64.50 0.00M67.44 -7.69L64.50 0.00M74.40 -1.10L73.67 -0.37L72.93 0.00L71.83 0.00L71.10 -0.37L70.37 -1.10L70.00 -2.20L70.00 -2.93L70.37 -4.03L71.10 -4.76L71.83 -5.12L72.93 -5.12L73.67 -4.76L74.03 -4.39L74.40 -3.66L74.40 -2.93L70.00 -2.93M81.00 -5.12L81.00 0.00M81.00 -4.03L80.26 -4.76L79.53 -5.12L78.43 -5.12L77.70 -4.76L76.96 -4.03L76.60 -2.93L76.60 -2.20L76.96 -1.10L77.70 -0.37L78.43 0.00L79.53 0.00L80.26 -0.37L81.00 -1.10M83.93 -5.12L83.93 0.00M83.93 -3.66L85.03 -4.76L85.76 -5.12L86.86 -5.12L87.59 -4.76L87.96 -3.66L87.96 0.00" fill="none" stroke="#000" stroke-width="1.20" stroke-linecap="round" stroke-linejoin="round" />
</svg>
</body></html>
